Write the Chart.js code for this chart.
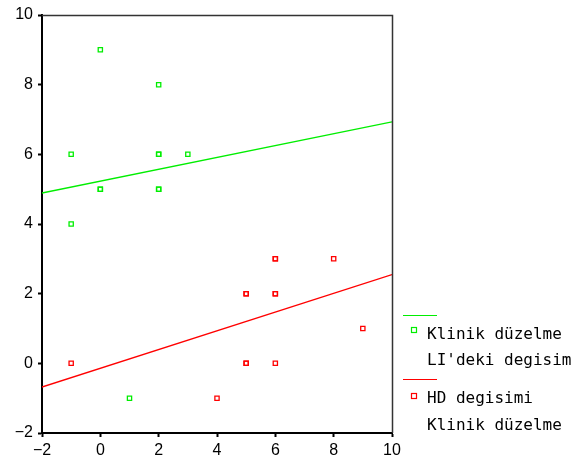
<!DOCTYPE html>
<html>
<head>
<meta charset="utf-8">
<script src="https://cdn.jsdelivr.net/npm/chart.js@4"></script>
<style>
  body { margin: 0; background: #fff; }
  #wrap { width: 585px; height: 462px; }
</style>
</head>
<body>
<div id="wrap"><canvas id="myChart" width="585" height="462"></canvas></div>
<script>
const greenX = [-1, -1, 0, 0, 0, 2, 2, 2, 2, 2, 3, 1];
const greenY = [6, 4, 9, 5, 5, 8, 6, 6, 5, 5, 6, -1];
const redX = [-1, 4, 5, 5, 5, 5, 6, 6, 6, 6, 6, 8, 9];
const redY = [0, -1, 2, 2, 0, 0, 3, 3, 2, 2, 0, 3, 1];
// fit lines, read at x = -2 and x = 10
const fitX = [-2, 10];
const greenFit = [4.89, 6.93];
const redFit = [-0.68, 2.55];
const ticks = [-2, 0, 2, 4, 6, 8, 10];

const green = "#00ee00";
const red = "#ff0000";

function pts(xs, ys) {
  return xs.map((x, i) => ({ x: x, y: ys[i] }));
}

function tickLabel(value) {
  return String(value).replace("-", "\u2212");
}

//Frame and legend
const framePlugin = {
  id: "frame",
  afterDraw(chart) {
    const { ctx, chartArea: a } = chart;
    ctx.save();
    ctx.strokeStyle = "#333";
    ctx.lineWidth = 1.5;
    ctx.beginPath();
    ctx.moveTo(a.left, a.top + 0.5);
    ctx.lineTo(a.right + 0.5, a.top + 0.5);
    ctx.lineTo(a.right + 0.5, a.bottom);
    ctx.stroke();

    ctx.font = "16px 'DejaVu Sans Mono'";
    ctx.fillStyle = "#000";
    ctx.textBaseline = "middle";
    const items = [
      { color: green, lineY: 315, boxY: 330, texts: ["Klinik düzelme", "LI'deki degisim"], textY: [335, 361] },
      { color: red, lineY: 379, boxY: 396, texts: ["HD degisimi", "Klinik düzelme"], textY: [399, 426] },
    ];
    items.forEach((it) => {
      ctx.strokeStyle = it.color;
      ctx.lineWidth = 1.2;
      ctx.beginPath();
      ctx.moveTo(403, it.lineY + 0.5);
      ctx.lineTo(437, it.lineY + 0.5);
      ctx.stroke();
      ctx.strokeRect(411.5, it.boxY - 2.5, 5, 5);
      it.texts.forEach((t, i) => ctx.fillText(t, 427, it.textY[i]));
    });
    ctx.restore();
  },
};

const ctx = document.getElementById("myChart").getContext("2d");

const config = {
  type: "scatter",
  data: {
    datasets: [
      {
        data: pts(greenX, greenY),
        borderColor: green,
        backgroundColor: "rgba(0,0,0,0)",
        pointStyle: "rect",
        pointRadius: 3,
        borderWidth: 1.3,
      },
      {
        data: pts(redX, redY),
        borderColor: red,
        backgroundColor: "rgba(0,0,0,0)",
        pointStyle: "rect",
        pointRadius: 3,
        borderWidth: 1.3,
      },
      {
        type: "line",
        data: pts(fitX, greenFit),
        borderColor: green,
        borderWidth: 1.3,
        pointRadius: 0,
        fill: false,
      },
      {
        type: "line",
        data: pts(fitX, redFit),
        borderColor: red,
        borderWidth: 1.3,
        pointRadius: 0,
        fill: false,
      },
    ],
  },
  options: {
    responsive: false,
    animation: false,
    layout: { padding: { top: 15, right: 193, left: 0, bottom: 0 } },
    plugins: { legend: { display: false }, tooltip: { enabled: false } },
    scales: {
      x: {
        type: "linear",
        min: -2,
        max: 10,
        afterBuildTicks: (s) => { s.ticks = ticks.map((v) => ({ value: v })); },
        afterFit: (s) => { s.height = 29; },
        grid: { drawOnChartArea: false, tickLength: 4, tickColor: "#000", tickWidth: 2 },
        border: { color: "#000", width: 2 },
        ticks: { color: "#000", padding: 4, callback: tickLabel, font: { family: "Liberation Sans", size: 16 } },
      },
      y: {
        type: "linear",
        min: -2,
        max: 10,
        afterBuildTicks: (s) => { s.ticks = ticks.map((v) => ({ value: v })); },
        afterFit: (s) => { s.width = 42; },
        grid: { drawOnChartArea: false, tickLength: 4, tickColor: "#000", tickWidth: 2 },
        border: { color: "#000", width: 2 },
        ticks: { color: "#000", padding: 5, callback: tickLabel, font: { family: "Liberation Sans", size: 16 } },
      },
    },
  },
  plugins: [framePlugin],
};

const myChart = new Chart(ctx, config);
</script>
</body>
</html>
